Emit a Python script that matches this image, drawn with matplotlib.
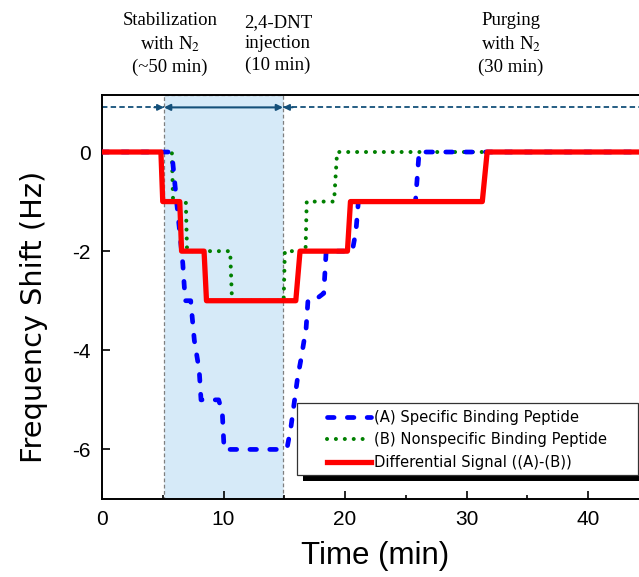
import matplotlib
matplotlib.use("Agg")
import matplotlib.pyplot as plt
from matplotlib.patches import Rectangle

plt.rcParams['axes.unicode_minus'] = False
plt.rcParams['mathtext.fontset'] = 'stix'

# (A) specific binding peptide
t_a = [0, 5.6, 5.8, 6.1, 6.35, 6.65, 6.85, 7.3, 7.6, 8.0, 8.15, 9.6, 9.9, 10.05,
       15.0, 15.25, 15.55, 16.1, 16.4, 16.8, 16.95, 17.45, 18.25, 18.45, 20.6,
       20.9, 21.1, 25.8, 26.1, 45]
f_a = [0, 0, -0.15, -0.9, -1.5, -2.25, -3.0, -3.0, -3.8, -4.4, -5.0, -5.0, -5.25, -6.0,
       -6.0, -5.95, -5.55, -4.55, -4.15, -3.55, -3.0, -3.0, -2.85, -2.0, -2.0,
       -1.6, -1.0, -1.0, 0, 0]

# (B) nonspecific binding peptide
t_b = [0, 5.75, 5.85, 6.9, 7.0, 10.55, 10.7, 14.95, 15.05, 16.75, 16.85, 19.1, 19.35, 45]
f_b = [0, 0, -1, -1, -2, -2, -3, -3, -2, -2, -1, -1, 0, 0]

# differential signal (A)-(B)
t_d = [0, 4.85, 5.0, 6.4, 6.55, 8.4, 8.6, 15.95, 16.3, 20.2, 20.45, 31.3, 31.7, 45]
f_d = [0, 0, -1, -1, -2, -2, -3, -3, -2, -2, -1, -1, 0, 0]

etiquetas = ['(A) Specific Binding Peptide', '(B) Nonspecific Binding Peptide',
             'Differential Signal ((A)-(B))']

inj_start, inj_end = 5.1, 14.9
arrow_y = 0.9

W, H = 639, 577
fig = plt.figure(figsize=(W / 100, H / 100), dpi=100)
ax = fig.add_axes([102 / W, 1 - 499 / H, 546.75 / W, 404 / H])

# zone d'injection
ax.add_patch(Rectangle((inj_start, -7), inj_end - inj_start, 8.15,
                       facecolor='#d6eaf8', edgecolor='#7f7f7f', lw=0.9,
                       ls=(0, (3, 2)), zorder=0.5))

azul = '#14507a'
ax.plot([0, inj_start], [arrow_y, arrow_y], color=azul, lw=1.3, ls=(0, (3, 1.8)), zorder=1)
ax.plot([inj_end, 45], [arrow_y, arrow_y], color=azul, lw=1.3, ls=(0, (3, 1.8)), zorder=1)
ax.annotate('', xy=(inj_start, arrow_y), xytext=(inj_start - 0.8, arrow_y),
            arrowprops=dict(arrowstyle='-|>', color=azul, lw=1.3, mutation_scale=9,
                            shrinkA=0, shrinkB=0))
ax.annotate('', xy=(inj_end, arrow_y), xytext=(inj_end + 0.8, arrow_y),
            arrowprops=dict(arrowstyle='-|>', color=azul, lw=1.3, mutation_scale=9,
                            shrinkA=0, shrinkB=0))
ax.annotate('', xy=(inj_end, arrow_y), xytext=(inj_start, arrow_y),
            arrowprops=dict(arrowstyle='<|-|>', color=azul, lw=1.5, mutation_scale=9,
                            shrinkA=0, shrinkB=0))

lb, = ax.plot(t_b, f_b, color='#008000', lw=2.9, ls=(0, (0.01, 2.2)),
              dash_capstyle='round', zorder=2)
la, = ax.plot(t_a, f_a, color='#0000ff', lw=3.4, ls=(0, (1.4, 2.8)),
              dash_capstyle='round', zorder=3)
ld, = ax.plot(t_d, f_d, color='#ff0000', lw=3.8, zorder=4)

ax.set_xlim(0, 45)
ax.set_ylim(-7, 1.15)
ax.set_xticks([0, 10, 20, 30, 40])
ax.set_xticks([5, 15, 25, 35], minor=True)
ax.set_yticks([0, -2, -4, -6])
ax.tick_params(which='both', direction='in', width=1.2, labelsize=15, pad=8)
ax.tick_params(which='major', length=5.5)
ax.tick_params(which='minor', length=3)
for lab in ax.get_xticklabels() + ax.get_yticklabels():
    lab.set_family(['Liberation Sans Narrow', 'Liberation Sans'])
for s in ax.spines.values():
    s.set_linewidth(1.4)

ax.set_xlabel('Time (min)', fontsize=22.5, family='Liberation Sans')
ax.xaxis.set_label_coords(0.5, -0.103)
ax.set_ylabel('Frequency Shift (Hz)', fontsize=20.7, family='DejaVu Sans')
ax.yaxis.set_label_coords(-0.098, 0.45)

# leyenda con marco y sombra dibujados a mano
leg = ax.legend([la, lb, ld], etiquetas,
                loc='upper left', bbox_to_anchor=(327 / W, 1 - 410 / H),
                bbox_transform=fig.transFigure, frameon=False, borderpad=0,
                borderaxespad=0, handlelength=3.0, handletextpad=0.22,
                labelspacing=0.5, prop={'family': 'DejaVu Sans', 'size': 10.6})
leg.set_zorder(6)
ax.add_patch(Rectangle((303 / W, 1 - 481 / H), 345 / W, 72 / H, transform=fig.transFigure,
                       facecolor='black', edgecolor='none', clip_on=False, zorder=5))
ax.add_patch(Rectangle((296.7 / W, 1 - 475 / H), 341.3 / W, 72.3 / H,
                       transform=fig.transFigure, facecolor='white', edgecolor='#333333',
                       lw=0.9, clip_on=False, zorder=5.5))

serif = {'family': 'Liberation Serif', 'size': 13.5, 'ha': 'center', 'va': 'center',
         'linespacing': 1.35}
fig.text(170 / W, 1 - 44 / H, 'Stabilization\nwith N$_2$\n(~50 min)', **serif)
fig.text(278 / W, 1 - 44 / H, '2,4-DNT\ninjection\n(10 min)', **serif)
fig.text(511 / W, 1 - 44 / H, 'Purging\nwith N$_2$\n(30 min)', **serif)

fig.savefig('out.png', dpi=100)
